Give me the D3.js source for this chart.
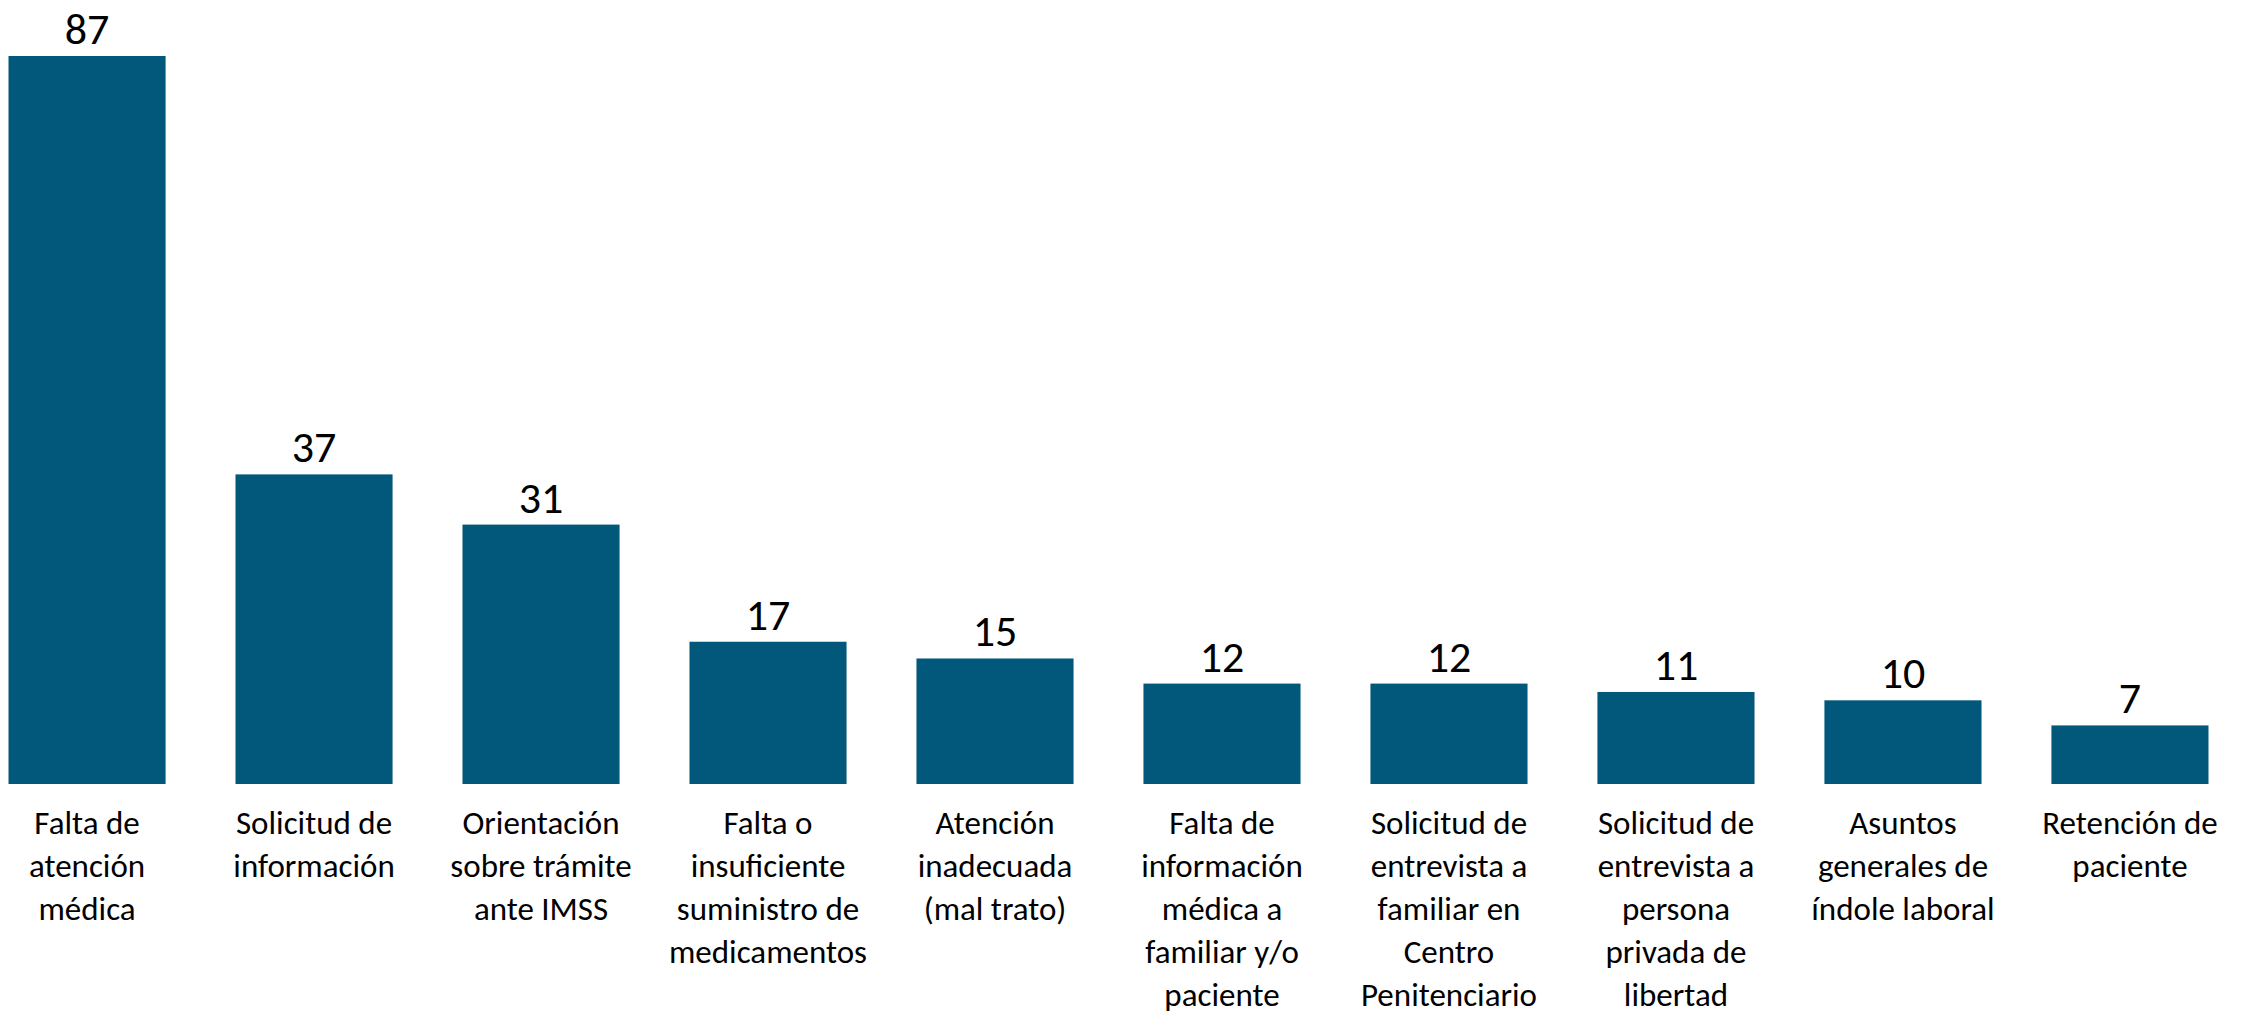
<!DOCTYPE html>
<html>
<head>
<meta charset="utf-8">
<script src="https://cdn.jsdelivr.net/npm/d3@7"></script>
<style>
  html, body { margin: 0; padding: 0; background: #fff; }
  svg { display: block; font-family: Carlito, Lato, sans-serif; }
</style>
</head>
<body>
<div id="chart"></div>
<script>
// categories (line breaks as in the original labels)
const categories = [
  'Falta de\natención\nmédica',
  'Solicitud de\ninformación',
  'Orientación\nsobre trámite\nante IMSS',
  'Falta o\ninsuficiente\nsuministro de\nmedicamentos',
  'Atención\ninadecuada\n(mal trato)',
  'Falta de\ninformación\nmédica a\nfamiliar y/o\npaciente',
  'Solicitud de\nentrevista a\nfamiliar en\nCentro\nPenitenciario',
  'Solicitud de\nentrevista a\npersona\nprivada de\nlibertad',
  'Asuntos\ngenerales de\níndole laboral',
  'Retención de\npaciente'
];
const values = [87, 37, 31, 17, 15, 12, 12, 11, 10, 7];

const width = 2259;
const height = 1015;
const barColor = '#02587a';

const data = categories.map((c, i) => ({ cat: c, value: values[i] }));

const svg = d3.select('#chart')
  .append('svg')
  .attr('width', width)
  .attr('height', height);

const xScale = d3.scaleBand()
  .domain(categories)
  .range([8.5, 2208.5])
  .paddingInner(0.308)
  .paddingOuter(0);

const yScale = d3.scaleLinear()
  .domain([0, 87])
  .range([784, 56]);

// bars
svg.append('g')
  .attr('class', 'bars')
  .selectAll('rect')
  .data(data)
  .join('rect')
  .attr('x', d => xScale(d.cat))
  .attr('y', d => yScale(d.value))
  .attr('width', xScale.bandwidth())
  .attr('height', d => yScale(0) - yScale(d.value))
  .attr('fill', barColor);

// value labels
svg.append('g')
  .attr('class', 'values')
  .selectAll('text')
  .data(data)
  .join('text')
  .attr('x', d => xScale(d.cat) + xScale.bandwidth() / 2)
  .attr('y', d => yScale(d.value) - 12)
  .attr('text-anchor', 'middle')
  .attr('font-size', 44)
  .attr('fill', '#000')
  .text(d => d.value);

// category axis, no line or ticks
const xAxis = d3.axisBottom(xScale).tickSize(0).tickPadding(0);
const axisG = svg.append('g')
  .attr('class', 'x-axis')
  .attr('transform', `translate(0, ${yScale(0)})`)
  .call(xAxis)
  .attr('font-family', null)
  .attr('font-size', null);

axisG.select('.domain').remove();

axisG.selectAll('.tick text')
  .attr('font-size', 33)
  .attr('fill', '#000')
  .attr('dy', null)
  .attr('y', 0)
  .each(function (d) {
    const t = d3.select(this);
    t.text(null);
    d.split('\n').forEach((line, i) => {
      t.append('tspan')
        .attr('x', 0)
        .attr('y', 50 + i * 43)
        .text(line);
    });
  });
</script>
</body>
</html>
